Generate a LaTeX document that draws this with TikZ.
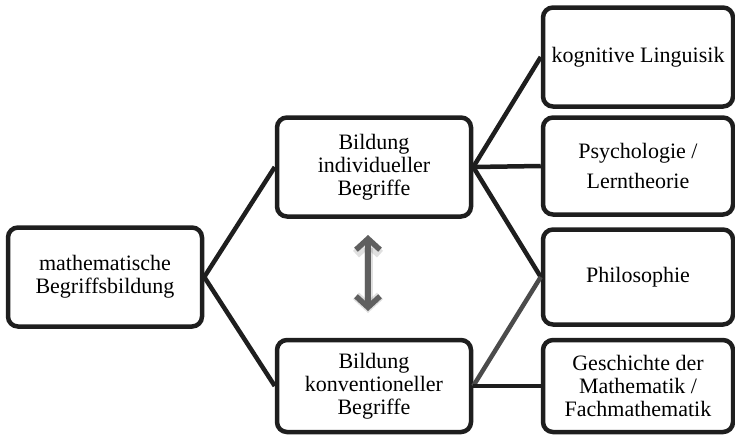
\documentclass[tikz,border=0pt]{standalone}
\usepackage{fontspec}
\setmainfont{Liberation Serif}
\usetikzlibrary{arrows.meta}
\definecolor{boxline}{RGB}{30,30,30}
\definecolor{arrowgray}{RGB}{95,95,95}
\definecolor{linkgray}{RGB}{75,75,75}

\begin{document}
\begin{tikzpicture}[x=1pt,y=-1pt,
 every node/.style={font=\fontsize{22}{23}\selectfont, align=center},
 field/.style={draw=boxline, line width=4.5pt, rounded corners=10pt, inner sep=0pt, minimum width=194pt},
 link/.style={draw=boxline, line width=4.5pt},
 barbs/.style={{Straight Barb[length=11pt,width=24pt]}-{Straight Barb[length=11pt,width=24pt]}}]
 \useasboundingbox (0,0) rectangle (735,434);
 % main boxes
 \node[field, minimum height=99pt] (mbb) at (105,277) {mathematische\\Begriffsbildung};
 \node[field, minimum height=99pt] (ind) at (374,167) {Bildung\\individueller\\Begriffe};
 \node[field, minimum height=92pt] (konv) at (374,386) {Bildung\\konventioneller\\Begriffe};
 % disciplines
 \node[field, minimum width=190pt, minimum height=99pt] (ling) at (638,57) {kognitive Linguisik};
 \node[field, minimum width=190pt, minimum height=97pt] (psy) at (638,166) {Psychologie /\\[7pt]Lerntheorie};
 \node[field, minimum width=190pt, minimum height=95pt] (phil) at (638,277) {Philosophie};
 \node[field, minimum width=190pt, minimum height=92pt] (gesch) at (638,386) {Geschichte der\\Mathematik /\\Fachmathematik};
 \draw[link] (mbb.east) -- (ind.west);
 \draw[link] (mbb.east) -- (konv.west);
 \draw[link] (ind.east) -- (ling.west);
 \draw[link] (ind.east) -- (psy.west);
 \draw[link] (ind.east) -- (phil.west);
 \draw[link, draw=linkgray] (konv.east) -- (phil.west);
 \draw[link] (konv.east) -- (gesch.west);
 % exchange between both
 \coordinate (up) at (368,235);
 \coordinate (down) at (368,311);
 \draw[black, opacity=0.12, line width=9pt, barbs, transform canvas={yshift=-2pt}] (up) -- (down);
 \draw[arrowgray, line width=5.5pt, barbs] (up) -- (down);
\end{tikzpicture}
\end{document}
